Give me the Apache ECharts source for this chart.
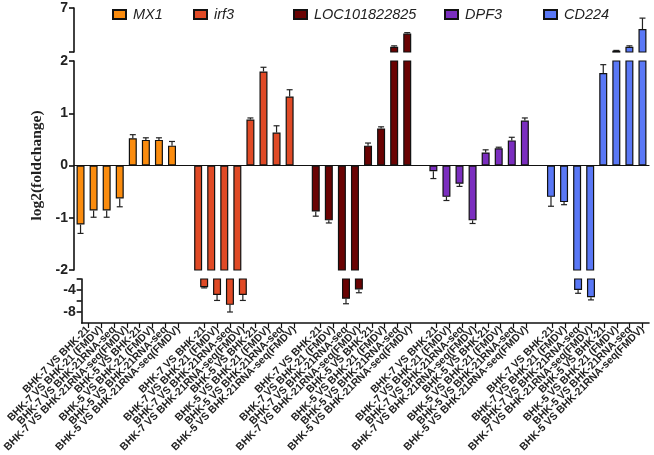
<!DOCTYPE html>
<html>
<head>
<meta charset="utf-8">
<script src="https://cdn.jsdelivr.net/npm/echarts@6/dist/echarts.min.js"></script>
<style>
  html, body { margin: 0; padding: 0; background: #fff; }
  #container { width: 654px; height: 455px; }
</style>
</head>
<body>
<div id="container"></div>
<script>
var genes = ['MX1', 'irf3', 'LOC101822825', 'DPF3', 'CD224'];
var conditions = [
    'BHK-7 VS BHK-21', 'BHK-7 VS BHK-21 (FMDV)', 'BHK-7 VS BHK-21RNA-seq', 'BHK-7 VS BHK-21RNA-seq(FMDV)',
    'BHK-5 VS BHK-21', 'BHK-5 VS BHK-21 (FMDV)', 'BHK-5 VS BHK-21RNA-seq', 'BHK-5 VS BHK-21RNA-seq(FMDV)'
];

// log2(foldchange) per gene, one value per condition
var mx1 = [-1.13, -0.86, -0.86, -0.63, 0.52, 0.49, 0.49, 0.38];
var irf3 = [-3.5, -4.9, -6.7, -4.9, 0.88, 1.80, 0.63, 1.32];
var loc101822825 = [-0.88, -1.05, -5.6, -3.9, 0.38, 0.71, 2.6, 4.1];
var dpf3 = [-0.11, -0.6, -0.35, -1.05, 0.25, 0.33, 0.48, 0.86];
var cd224 = [-0.6, -0.7, -4.0, -5.3, 1.77, 2.15, 2.6, 4.6];

// error bars (SD)
var mx1Err = [0.17, 0.13, 0.13, 0.16, 0.07, 0.04, 0.04, 0.08];
var irf3Err = [0.12, 1.0, 1.3, 1.0, 0.03, 0.08, 0.13, 0.13];
var loc101822825Err = [0.09, 0.05, 0.9, 0.6, 0.05, 0.03, 0.1, 0.1];
var dpf3Err = [0.14, 0.07, 0.05, 0.06, 0.05, 0.02, 0.06, 0.05];
var cd224Err = [0.18, 0.05, 0.6, 0.5, 0.16, 0.03, 0.1, 1.25];

var values = [mx1, irf3, loc101822825, dpf3, cd224];
var errors = [mx1Err, irf3Err, loc101822825Err, dpf3Err, cd224Err];
var colors = ['#FB8C0E', '#E04A26', '#6A0303', '#7B2EBF', '#5A78F6'];

function buildCategories() {
    var cats = [];
    for (var g = 0; g < genes.length; g++) {
        if (g > 0) cats.push('');
        for (var i = 0; i < conditions.length; i++) cats.push(conditions[i]);
    }
    return cats;
}

function catIndex(g, i) {
    return g * (conditions.length + 1) + i;
}

function renderErr(params, api) {
    var x = api.value(0), v = api.value(1), e = api.value(2);
    var end = v >= 0 ? v + e : v - e;
    var p0 = api.coord([x, v]);
    var p1 = api.coord([x, end]);
    var style = { stroke: '#222', lineWidth: 1.2 };
    return {
        type: 'group',
        children: [
            { type: 'line', shape: { x1: p0[0], y1: p0[1], x2: p1[0], y2: p1[1] }, style: style },
            { type: 'line', shape: { x1: p1[0] - 3, y1: p1[1], x2: p1[0] + 3, y2: p1[1] }, style: style }
        ]
    };
}

function chart() {
    var dom = document.getElementById('container');
    var myChart = echarts.init(dom);
    var cats = buildCategories();
    var font = 'Liberation Sans, Arial, sans-serif';

    // three stacked grids = broken y axis (2..7 / -2..2 / -10..-2)
    var grids = [
        { left: 74, right: 5, top: 8, height: 44 },
        { left: 74, right: 5, top: 61, height: 209 },
        { left: 74, right: 5, top: 279, height: 44 }
    ];

    var xAxes = [0, 1, 2].map(function (k) {
        return {
            type: 'category',
            gridIndex: k,
            data: cats,
            show: k > 0,
            axisLine: {
                show: k > 0,
                onZero: k == 1,
                lineStyle: { color: '#111', width: k == 2 ? 1.6 : 1.2 }
            },
            axisTick: {
                show: k == 2,
                alignWithLabel: true,
                length: 5,
                interval: function (idx, val) { return val !== ''; },
                lineStyle: { color: '#111', width: 1.2 }
            },
            axisLabel: {
                show: k == 2,
                interval: 0,
                rotate: 45,
                margin: 5,
                fontSize: 10.5,
                fontWeight: 'bold',
                fontFamily: font,
                color: '#222'
            },
            splitLine: { show: false }
        };
    });

    var yLine = { show: true, lineStyle: { color: '#111', width: 1.6 } };
    var yTick = { show: true, length: 5, lineStyle: { color: '#111', width: 1.6 } };
    var yLabel = { fontSize: 14, fontWeight: 'bold', fontFamily: font, color: '#222', margin: 6 };

    var yAxes = [
        {
            type: 'value', gridIndex: 0, min: 2, max: 7,
            axisLine: yLine,
            axisTick: Object.assign({ customValues: [2, 7] }, yTick),
            axisLabel: Object.assign({ customValues: [7] }, yLabel),
            splitLine: { show: false }
        },
        {
            type: 'value', gridIndex: 1, min: -2, max: 2, interval: 1,
            name: 'log2(foldchange)',
            nameLocation: 'middle',
            nameGap: 17,
            nameTextStyle: { fontSize: 15.5, fontWeight: 'bold', fontFamily: 'Liberation Serif, Times New Roman, serif', color: '#222' },
            axisLine: yLine,
            axisTick: yTick,
            axisLabel: yLabel,
            splitLine: { show: false }
        },
        {
            type: 'value', gridIndex: 2, min: -10, max: -2,
            axisLine: yLine,
            axisTick: Object.assign({ customValues: [-2, -4, -6, -8] }, yTick),
            axisLabel: Object.assign({ customValues: [-4, -8] }, yLabel),
            splitLine: { show: false }
        }
    ];

    var series = [];
    for (var k = 0; k < 3; k++) {
        for (var g = 0; g < genes.length; g++) {
            var data = cats.map(function () { return '-'; });
            for (var i = 0; i < conditions.length; i++) data[catIndex(g, i)] = values[g][i];
            series.push({
                name: genes[g],
                type: 'bar',
                xAxisIndex: k,
                yAxisIndex: k,
                data: data,
                barWidth: 8,
                barGap: '-100%',
                clip: true,
                silent: true,
                itemStyle: { color: colors[g], borderColor: '#111', borderWidth: 1.2 }
            });
        }
        var errData = [];
        for (var g2 = 0; g2 < genes.length; g2++) {
            for (var j = 0; j < conditions.length; j++) {
                errData.push([catIndex(g2, j), values[g2][j], errors[g2][j]]);
            }
        }
        series.push({
            type: 'custom',
            xAxisIndex: k,
            yAxisIndex: k,
            data: errData,
            clip: true,
            silent: true,
            z: 3,
            encode: { x: 0, y: 1 },
            renderItem: renderErr
        });
    }

    var legendLeft = [112, 193, 293, 444, 543];
    var legends = genes.map(function (g, i) {
        return {
            data: [g],
            left: legendLeft[i],
            top: 7,
            padding: 0,
            icon: 'rect',
            itemWidth: 13,
            itemHeight: 9,
            selectedMode: false,
            textStyle: { fontStyle: 'italic', fontSize: 14.5, fontFamily: font, color: '#222', padding: [0, 0, 0, 2] }
        };
    });

    var option = {
        animation: false,
        backgroundColor: '#fff',
        legend: legends,
        grid: grids,
        xAxis: xAxes,
        yAxis: yAxes,
        series: series
    };
    myChart.setOption(option, true);
}

chart();
</script>
</body>
</html>
